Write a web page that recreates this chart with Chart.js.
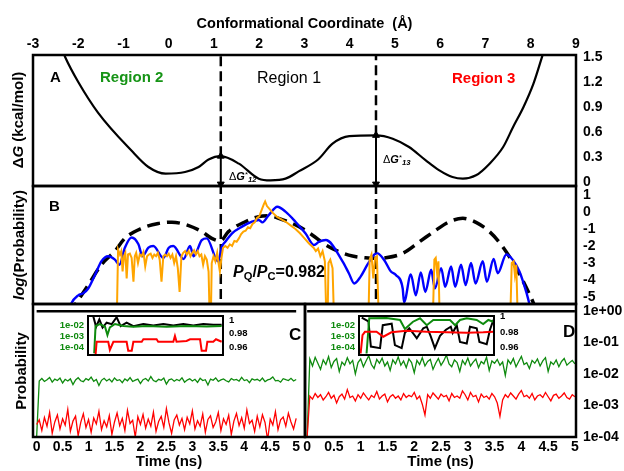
<!DOCTYPE html>
<html>
<head>
<meta charset="utf-8">
<script src="https://cdn.jsdelivr.net/npm/chart.js@4.4.1/dist/chart.umd.min.js"></script>
<style>
  html, body { margin: 0; padding: 0; background: #fff; }
  #fig { position: relative; width: 624px; height: 471px; overflow: hidden;
         font-family: 'Liberation Sans', Arial, sans-serif; color: #000; }
  #fig canvas { position: absolute; left: 0; top: 0; }
  .t { position: absolute; white-space: nowrap; line-height: 1; transform: translateY(-50%); }
  .v { position: absolute; white-space: nowrap; line-height: 1; font-weight: bold; font-size: 15px;
       transform: translate(-50%, -50%) rotate(-90deg); }
  .sb { font-size: 0.7em; position: relative; top: 0.3em; }
  .sp { font-size: 0.7em; position: relative; top: -0.35em; }
</style>
</head>
<body>
<div id="fig">
  <canvas id="cA" width="624" height="471"></canvas>
  <canvas id="cB" width="624" height="471"></canvas>
  <canvas id="cC" width="624" height="471"></canvas>
  <canvas id="cD" width="624" height="471"></canvas>
  <canvas id="cCi" width="624" height="471"></canvas>
  <canvas id="cDi" width="624" height="471"></canvas>

  <div class="v" style="left:17px; top:120px;">&Delta;<i>G</i> (kcal/mol)</div>
  <div class="v" style="left:18px; top:245px;"><i>log</i>(Probability)</div>
  <div class="v" style="left:20px; top:371px;">Probability</div>

  <div class="t" style="left:50px; top:76px; font:bold 15px 'Liberation Sans',Arial;">A</div>
  <div class="t" style="left:49px; top:205px; font:bold 15px 'Liberation Sans',Arial;">B</div>
  <div class="t" style="left:289px; top:335px; font:bold 17px 'Liberation Sans',Arial;">C</div>
  <div class="t" style="left:563px; top:332px; font:bold 17px 'Liberation Sans',Arial;">D</div>

  <div class="t" style="left:100px; top:76px; font:bold 15px 'Liberation Sans',Arial; color:#169416;">Region 2</div>
  <div class="t" style="left:257px; top:78px; font:16px 'Liberation Sans',Arial;">Region 1</div>
  <div class="t" style="left:452px; top:77px; font:bold 15px 'Liberation Sans',Arial; color:#ff0000;">Region 3</div>

  <div class="t" style="left:229px; top:176px; font:11px 'Liberation Sans',Arial;">&Delta;<b><i>G</i></b><span class="sp">*</span><b><i class="sb">12</i></b></div>
  <div class="t" style="left:383px; top:159px; font:11px 'Liberation Sans',Arial;">&Delta;<b><i>G</i></b><span class="sp">*</span><b><i class="sb">13</i></b></div>

  <div class="t" style="left:233px; top:272px; font:bold 16px 'Liberation Sans',Arial;"><i>P</i><span class="sb">Q</span>/<i>P</i><span class="sb">C</span>=0.982</div>
</div>

<script>
const FONT = "'Liberation Sans', Arial, sans-serif";
Chart.defaults.font.family = FONT;
Chart.defaults.color = '#000';

// ---- axis ticks ----
const coordTicks = [-3, -2, -1, 0, 1, 2, 3, 4, 5, 6, 7, 8, 9];
const gTicks = [0, 0.3, 0.6, 0.9, 1.2, 1.5];
const gTickLabels = ['0', '0.3', '0.6', '0.9', '1.2', '1.5'];
const logPTicks = [1, 0, -1, -2, -3, -4, -5];
const timeTicks = [0, 0.5, 1, 1.5, 2, 2.5, 3, 3.5, 4, 4.5, 5];
const timeTickLabels = ['0', '0.5', '1', '1.5', '2', '2.5', '3', '3.5', '4', '4.5', '5'];
const probTicks = [1, 0.1, 0.01, 0.001, 0.0001];
const probTickLabels = ['1e+00', '1e-01', '1e-02', '1e-03', '1e-04'];
const insetLeftTicks = [0.01, 0.001, 0.0001];
const insetLeftLabels = ['1e-02', '1e-03', '1e-04'];
const insetRightTicks = [1, 0.98, 0.96];
const insetRightLabels = ['1', '0.98', '0.96'];

// ---- panel A: free energy profile (x in Angstrom, dG in kcal/mol) ----
const barrierX = [1.15, 4.58];
const barrierG = [0.31, 0.56];
const freeEnergy = [
  [-2.4, 1.65], [-2.29, 1.5], [-2.0, 1.2], [-1.56, 0.83], [-0.83, 0.38], [-0.45, 0.18],
  [-0.07, 0.1], [0.36, 0.12], [0.66, 0.18], [0.88, 0.27], [1.15, 0.31], [1.55, 0.22],
  [1.99, 0.04], [2.25, 0.02], [2.58, 0.04], [2.88, 0.13], [3.3, 0.27], [3.62, 0.46],
  [3.99, 0.55], [4.58, 0.56], [4.95, 0.52], [5.31, 0.42], [5.68, 0.26], [5.98, 0.14],
  [6.27, 0.06], [6.5, 0.04], [6.79, 0.08], [7.09, 0.22], [7.39, 0.42], [7.61, 0.66],
  [7.84, 0.9], [8.06, 1.18], [8.26, 1.52], [8.35, 1.68]
];

// ---- panel B: log(probability) ----
const classicalLogP = [
  [-2.2, -6.0], [-2.08, -5.5], [-1.78, -4.3], [-1.49, -3.1], [-1.19, -2.3], [-0.97, -1.55],
  [-0.6, -0.96], [-0.23, -0.67], [0.07, -0.6], [0.44, -0.8], [0.73, -1.15], [0.95, -1.55],
  [1.14, -1.7], [1.32, -1.15], [1.69, -0.57], [1.99, -0.27], [2.21, -0.22], [2.43, -0.37],
  [2.88, -0.86], [3.17, -1.35], [3.47, -1.94], [3.76, -2.33], [4.06, -2.59], [4.35, -2.69],
  [4.58, -2.72], [4.8, -2.69], [5.17, -2.43], [5.54, -1.75], [5.91, -1.06], [6.2, -0.57],
  [6.5, -0.37], [6.79, -0.61], [7.09, -1.16], [7.38, -2.04], [7.68, -3.31], [7.98, -4.88],
  [8.1, -5.6]
];
const quantumBlue = [
  [-2.2, -5.8], [-2.15, -5.37], [-2.0, -4.9], [-1.89, -4.78], [-1.78, -4.5], [-1.63, -3.7],
  [-1.49, -2.9], [-1.34, -2.6], [-1.19, -2.8], [-1.09, -3.1], [-0.97, -2.1], [-0.82, -1.5],
  [-0.67, -1.9], [-0.58, -2.6], [-0.45, -2.1], [-0.34, -2.0], [-0.12, -2.7], [0.0, -2.1],
  [0.1, -2.0], [0.33, -2.76], [0.47, -2.0], [0.55, -2.6], [0.73, -1.65], [0.84, -1.55],
  [1.09, -2.9], [1.18, -2.0], [1.25, -1.75], [1.4, -1.25], [1.62, -0.86], [1.84, -0.57],
  [1.99, -0.47], [2.07, -0.61], [2.21, -0.18], [2.4, 0.31], [2.58, 0.02], [2.8, -0.57],
  [3.02, -1.25], [3.21, -1.94], [3.32, -1.75], [3.47, -1.65], [3.84, -2.9], [3.98, -3.6],
  [4.1, -4.2], [4.24, -3.8], [4.39, -3.1], [4.54, -2.5], [4.61, -2.43], [4.76, -2.82],
  [4.91, -3.5], [5.02, -3.7], [5.17, -4.5], [5.2, -5.3], [5.35, -3.67], [5.46, -4.9],
  [5.57, -3.55], [5.67, -4.7], [5.8, -3.4], [5.88, -4.5], [6.02, -3.3], [6.11, -4.4],
  [6.24, -3.2], [6.33, -4.4], [6.46, -3.1], [6.56, -4.3], [6.68, -3.0], [6.78, -4.2],
  [6.94, -2.9], [7.03, -4.1], [7.18, -2.76], [7.27, -3.6], [7.46, -2.5], [7.6, -2.8],
  [7.75, -3.5], [7.9, -4.7], [7.98, -5.5]
];
// values below the axis mean "off scale" (log of ~0)
const quantumOrange = [
  [-1.16, -8], [-1.12, -2.2], [-1.08, -2.5], [-1.05, -2.3], [-1.02, -3.5], [-0.99, -2.6],
  [-0.96, -2.4], [-0.93, -3.9], [-0.9, -2.5], [-0.86, -2.45], [-0.82, -2.7], [-0.78, -4.1],
  [-0.75, -2.6], [-0.72, -2.4], [-0.68, -3.0], [-0.64, -2.5], [-0.6, -2.6], [-0.56, -2.35],
  [-0.52, -3.2], [-0.48, -2.6], [-0.44, -2.5], [-0.4, -2.45], [-0.36, -2.7], [-0.32, -2.5],
  [-0.28, -2.6], [-0.24, -2.4], [-0.2, -2.8], [-0.16, -4.1], [-0.12, -2.6], [-0.08, -2.5],
  [-0.04, -2.6], [0, -2.45], [0.04, -2.7], [0.08, -2.5], [0.12, -3.0], [0.16, -2.6],
  [0.2, -3.3], [0.24, -4.7], [0.28, -2.6], [0.32, -2.4], [0.36, -2.3], [0.4, -2.5],
  [0.44, -2.3], [0.48, -2.6], [0.52, -2.4], [0.56, -2.25], [0.6, -2.5], [0.64, -2.3],
  [0.68, -2.6], [0.72, -2.5], [0.76, -3.1], [0.8, -2.6], [0.84, -2.8], [0.88, -3.5],
  [0.92, -8], [0.95, -3.0], [0.99, -2.6], [1.03, -2.9], [1.07, -2.4], [1.1, -3.0],
  [1.13, -3.5], [1.17, -2.6], [1.2, -2.1], [1.25, -2.0], [1.3, -2.1], [1.35, -1.9],
  [1.4, -2.0], [1.45, -1.7], [1.5, -1.75], [1.55, -1.55], [1.6, -1.3], [1.65, -1.15],
  [1.7, -1.1], [1.75, -0.9], [1.8, -0.95], [1.85, -0.7], [1.9, -0.6], [1.95, -0.35],
  [2.0, -0.25], [2.05, 0.1], [2.1, 0.45], [2.13, 0.62], [2.17, 0.35], [2.22, 0.2],
  [2.3, -0.05], [2.4, -0.3], [2.5, -0.45], [2.6, -0.6], [2.7, -0.8], [2.8, -1.0],
  [2.9, -1.25], [3.0, -1.55], [3.1, -1.85], [3.2, -2.1], [3.25, -2.3], [3.3, -2.15],
  [3.35, -2.6], [3.4, -2.3], [3.45, -2.9], [3.5, -8], [3.53, -3.0], [3.57, -2.8],
  [3.62, -3.3], [3.67, -8], [4.4, -8], [4.44, -2.8], [4.48, -2.5], [4.52, -3.9],
  [4.56, -2.7], [4.6, -2.6], [4.66, -8], [5.82, -8], [5.87, -2.8], [5.9, -2.7],
  [5.93, -3.6], [5.96, -2.9], [6.0, -8], [7.53, -8], [7.58, -3.0], [7.62, -2.9],
  [7.65, -3.7], [7.68, -3.1], [7.73, -8]
];

// ---- panels C and D: probabilities vs time (ns) ----
const sampleTimes = [
  0, 0.05, 0.1, 0.15, 0.2, 0.25, 0.3, 0.35, 0.4, 0.45, 0.5,
  0.55, 0.6, 0.65, 0.7, 0.75, 0.8, 0.85, 0.9, 0.95, 1,
  1.05, 1.1, 1.15, 1.2, 1.25, 1.3, 1.35, 1.4, 1.45, 1.5,
  1.55, 1.6, 1.65, 1.7, 1.75, 1.8, 1.85, 1.9, 1.95, 2,
  2.05, 2.1, 2.15, 2.2, 2.25, 2.3, 2.35, 2.4, 2.45, 2.5,
  2.55, 2.6, 2.65, 2.7, 2.75, 2.8, 2.85, 2.9, 2.95, 3,
  3.05, 3.1, 3.15, 3.2, 3.25, 3.3, 3.35, 3.4, 3.45, 3.5,
  3.55, 3.6, 3.65, 3.7, 3.75, 3.8, 3.85, 3.9, 3.95, 4,
  4.05, 4.1, 4.15, 4.2, 4.25, 4.3, 4.35, 4.4, 4.45, 4.5,
  4.55, 4.6, 4.65, 4.7, 4.75, 4.8, 4.85, 4.9, 4.95, 5
];
const region1ProbC = [[0, 0.99], [5, 0.99]];
const region2ProbC = [
  1e-4, 6.0e-3, 7.2e-3, 5.8e-3, 6.6e-3, 7.8e-3, 5.5e-3, 6.9e-3, 6.2e-3, 7.4e-3, 5.2e-3,
  6.8e-3, 6.0e-3, 7.0e-3, 4.6e-3, 6.5e-3, 7.6e-3, 6.1e-3, 5.7e-3, 7.1e-3, 6.4e-3,
  8.0e-3, 5.9e-3, 6.7e-3, 4.3e-3, 6.3e-3, 7.3e-3, 6.0e-3, 6.9e-3, 5.6e-3, 7.5e-3,
  6.2e-3, 6.6e-3, 5.3e-3, 7.0e-3, 6.1e-3, 7.7e-3, 5.8e-3, 6.4e-3, 6.9e-3, 5.0e-3,
  6.6e-3, 7.2e-3, 6.0e-3, 8.3e-3, 6.2e-3, 5.7e-3, 6.8e-3, 6.3e-3, 7.4e-3, 4.8e-3,
  6.5e-3, 7.0e-3, 5.9e-3, 6.7e-3, 6.1e-3, 7.6e-3, 5.5e-3, 6.4e-3, 7.1e-3, 6.0e-3,
  6.8e-3, 5.4e-3, 7.3e-3, 6.2e-3, 6.6e-3, 4.5e-3, 6.9e-3, 6.3e-3, 7.5e-3, 5.8e-3,
  6.5e-3, 7.0e-3, 6.1e-3, 5.6e-3, 7.2e-3, 6.4e-3, 6.7e-3, 5.9e-3, 7.8e-3, 6.2e-3,
  6.6e-3, 5.3e-3, 7.0e-3, 6.4e-3, 6.8e-3, 6.0e-3, 7.4e-3, 5.7e-3, 6.5e-3, 6.9e-3,
  8.1e-3, 6.1e-3, 6.3e-3, 5.5e-3, 7.1e-3, 6.6e-3, 6.2e-3, 7.3e-3, 6.0e-3, 6.7e-3
];
const region3ProbC = [
  2.5e-4, 3.5e-4, 1.6e-4, 4.2e-4, 2.2e-4, 6.0e-4, 1.3e-4, 3.0e-4, 5.0e-4, 1.8e-4, 3.8e-4,
  2.4e-4, 7.5e-4, 1.5e-4, 3.2e-4, 4.6e-4, 1.1e-4, 2.9e-4, 5.5e-4, 2.0e-4, 3.6e-4,
  1.4e-4, 4.0e-4, 2.6e-4, 6.5e-4, 1.7e-4, 3.3e-4, 2.1e-4, 4.8e-4, 1.2e-4, 3.0e-4,
  5.8e-4, 2.3e-4, 3.9e-4, 1.6e-4, 7.0e-4, 2.7e-4, 3.4e-4, 1.0e-4, 4.4e-4, 2.5e-4,
  5.2e-4, 1.9e-4, 3.7e-4, 2.2e-4, 6.2e-4, 1.5e-4, 3.1e-4, 4.5e-4, 2.0e-4, 8.0e-4,
  2.8e-4, 1.3e-4, 3.5e-4, 5.0e-4, 2.4e-4, 3.9e-4, 1.7e-4, 4.2e-4, 2.6e-4, 6.8e-4,
  1.8e-4, 3.3e-4, 2.2e-4, 5.4e-4, 1.4e-4, 3.6e-4, 4.7e-4, 2.0e-4, 3.0e-4, 6.0e-4,
  1.6e-4, 3.8e-4, 2.5e-4, 4.9e-4, 1.2e-4, 3.2e-4, 5.6e-4, 2.3e-4, 4.1e-4, 1.9e-4,
  7.2e-4, 2.7e-4, 3.4e-4, 1.5e-4, 4.6e-4, 2.1e-4, 5.1e-4, 2.9e-4, 0.8e-4, 3.7e-4,
  2.4e-4, 6.4e-4, 1.7e-4, 3.5e-4, 4.3e-4, 2.2e-4, 5.7e-4, 3.0e-4, 1.8e-4, 3.9e-4
];
const region1ProbD = [[0, 0.99], [5, 0.99]];
const region2ProbD = [
  1e-4, 0.030, 0.018, 0.034, 0.022, 0.014, 0.028, 0.020, 0.036, 0.016, 0.025,
  0.031, 0.012, 0.024, 0.019, 0.033, 0.021, 0.027, 0.010, 0.023, 0.030,
  0.017, 0.026, 0.038, 0.020, 0.015, 0.029, 0.022, 0.032, 0.018, 0.024,
  0.013, 0.028, 0.021, 0.035, 0.019, 0.026, 0.016, 0.030, 0.023, 0.011,
  0.027, 0.020, 0.033, 0.018, 0.025, 0.029, 0.014, 0.022, 0.031, 0.019,
  0.026, 0.040, 0.021, 0.017, 0.028, 0.023, 0.012, 0.027, 0.020, 0.032,
  0.018, 0.024, 0.030, 0.016, 0.025, 0.021, 0.034, 0.013, 0.026, 0.022,
  0.029, 0.019, 0.024, 0.009, 0.028, 0.021, 0.031, 0.017, 0.025, 0.036,
  0.020, 0.023, 0.015, 0.027, 0.022, 0.030, 0.018, 0.026, 0.033, 0.012,
  0.024, 0.020, 0.028, 0.017, 0.025, 0.031, 0.019, 0.023, 0.027, 0.021
];
const region3ProbD = [
  1e-4, 2.0e-3, 1.6e-3, 2.4e-3, 1.8e-3, 2.2e-3, 1.5e-3, 1.9e-3, 2.6e-3, 1.7e-3, 2.1e-3,
  1.2e-3, 1.9e-3, 2.3e-3, 1.6e-3, 3.2e-3, 1.8e-3, 2.0e-3, 1.4e-3, 2.2e-3, 1.7e-3,
  2.5e-3, 1.9e-3, 1.5e-3, 2.1e-3, 1.8e-3, 2.8e-3, 1.6e-3, 2.0e-3, 2.3e-3, 1.3e-3,
  1.9e-3, 2.2e-3, 1.7e-3, 2.0e-3, 1.5e-3, 2.4e-3, 1.8e-3, 2.1e-3, 1.9e-3, 2.6e-3,
  1.6e-3, 2.0e-3, 1.1e-3, 0.5e-3, 2.2e-3, 1.7e-3, 2.5e-3, 2.0e-3, 1.6e-3, 2.3e-3,
  1.9e-3, 2.1e-3, 1.4e-3, 2.4e-3, 1.8e-3, 2.0e-3, 1.7e-3, 2.9e-3, 2.2e-3, 1.5e-3,
  2.6e-3, 1.9e-3, 2.1e-3, 1.3e-3, 2.3e-3, 1.8e-3, 2.0e-3, 1.6e-3, 2.4e-3, 1.9e-3,
  1.2e-3, 0.45e-3, 1.5e-3, 2.2e-3, 1.8e-3, 2.5e-3, 2.0e-3, 1.6e-3, 2.3e-3, 3.0e-3,
  1.9e-3, 2.1e-3, 1.7e-3, 2.4e-3, 1.5e-3, 2.0e-3, 2.2e-3, 1.8e-3, 2.6e-3, 1.9e-3,
  1.4e-3, 2.1e-3, 2.3e-3, 1.7e-3, 2.0e-3, 2.5e-3, 1.8e-3, 1.6e-3, 2.2e-3, 1.9e-3
];

// ---- insets: [time, value] ----
const insetCBlack = [
  [0.2, 1.0048], [0.3, 0.990], [0.42, 1.001], [0.54, 0.989], [0.69, 0.996], [0.88, 0.994],
  [1.06, 1.004], [1.21, 0.991], [1.43, 0.996], [1.68, 0.991], [2.05, 0.994], [2.42, 0.992],
  [2.79, 0.994], [3.16, 0.992], [3.53, 0.994], [3.9, 0.992], [4.27, 0.994], [4.64, 0.993],
  [4.95, 0.993]
];
const insetCGreen = [
  [0.23, 2.7e-5], [0.28, 8.1e-3], [0.44, 0.0123], [0.63, 7e-3], [0.72, 1.2e-3], [0.81, 6.2e-3],
  [1.0, 0.0123], [1.31, 8.1e-3], [1.68, 7e-3], [2.17, 8.1e-3], [2.91, 7e-3], [3.65, 8.1e-3],
  [4.4, 7.5e-3], [4.95, 8.1e-3]
];
const insetCRed = [
  [0.28, 2e-5], [0.32, 3e-4], [0.75, 3e-4], [0.81, 5.4e-5], [0.94, 3e-4], [1.43, 3e-4],
  [1.49, 4.5e-5], [1.62, 4.5e-5], [1.68, 3e-4], [1.99, 3e-4], [2.05, 5e-4], [2.54, 5e-4],
  [2.6, 3e-4], [3.16, 3e-4], [3.22, 1e-3], [3.28, 3e-4], [3.65, 3.5e-4], [3.78, 5e-4],
  [4.15, 5e-4], [4.21, 4.5e-5], [4.37, 4.5e-5], [4.42, 3e-4], [4.64, 3e-4], [4.74, 5e-4],
  [4.95, 3e-4]
];
const insetDBlack = [
  [0.1, 0.999], [0.35, 0.994], [0.44, 0.961], [0.78, 0.959], [0.88, 0.989], [1.21, 0.991],
  [1.33, 0.963], [1.58, 0.959], [1.7, 0.979], [1.86, 0.985], [2.14, 0.972], [2.38, 0.985],
  [2.51, 0.987], [2.65, 0.975], [2.81, 0.959], [3.0, 0.975], [3.22, 0.983], [3.4, 0.987],
  [3.47, 0.979], [3.62, 0.989], [3.74, 0.967], [3.99, 0.965], [4.11, 0.987], [4.36, 0.985],
  [4.46, 0.967], [4.73, 0.964], [4.85, 0.983], [4.98, 0.996]
];
const insetDGreen = [
  [0.28, 3e-5], [0.38, 0.047], [1.02, 0.05], [1.52, 0.033], [1.7, 5e-3], [2.0, 0.023],
  [2.26, 0.047], [2.51, 0.011], [2.75, 0.033], [3.37, 0.033], [3.56, 0.011], [3.74, 0.033],
  [3.99, 0.047], [4.36, 0.033], [4.6, 0.014], [4.79, 0.033], [4.98, 0.023]
];
const insetDRed = [
  [0.06, 3e-5], [0.13, 1.4e-3], [0.22, 2.8e-3], [0.65, 2.8e-3], [0.9, 1e-3], [1.2, 2.5e-3],
  [1.76, 3.5e-3], [2.51, 2.8e-3], [3.25, 2.6e-3], [3.99, 2.3e-3], [4.6, 2.5e-3], [4.98, 2.8e-3]
];

const GREEN = '#0e8a0e';
const RED = '#ff0000';

// frame around each panel (and white background for the insets)
const framePlugin = {
  id: 'frame',
  beforeDraw(chart, args, opts) {
    if (!opts.fill) return;
    const { ctx, chartArea: a } = chart;
    ctx.save();
    ctx.fillStyle = opts.fill;
    ctx.fillRect(a.left, a.top, a.width, a.height);
    ctx.restore();
  },
  afterDatasetsDraw(chart, args, opts) {
    const { ctx, chartArea: a } = chart;
    ctx.save();
    ctx.strokeStyle = '#000';
    ctx.lineWidth = opts.width || 2.5;
    ctx.strokeRect(a.left, a.top, a.width, a.height);
    ctx.restore();
  }
};

const pts = arr => arr.map(([x, y]) => ({ x, y }));
const bold = size => ({ family: FONT, size, weight: 'bold' });

function line(data, color, width, extra) {
  return Object.assign({ data, borderColor: color, borderWidth: width, pointRadius: 0,
                         fill: false, tension: 0 }, extra || {});
}

function noGrid() {
  return { grid: { display: false, drawTicks: false }, border: { display: false } };
}

function fixedTicks(values) {
  return s => { s.ticks = values.map(v => ({ value: v })); };
}

function baseOptions(padding, scales, frame) {
  return {
    responsive: false, animation: false, events: [],
    layout: { padding, autoPadding: false },
    plugins: { legend: { display: false }, tooltip: { enabled: false }, frame },
    scales
  };
}

// ---- panel A ----
const arrowA = i => line(pts([[barrierX[i], -0.025], [barrierX[i], barrierG[i]]]), '#000', 2,
  { pointStyle: 'triangle', pointRadius: 4, pointRotation: [180, 0],
    pointBackgroundColor: '#000', pointBorderColor: '#000', pointBorderWidth: 1 });
const dashA = i => line(pts([[barrierX[i], barrierG[i]], [barrierX[i], 1.7]]), '#000', 2.5,
  { borderDash: [10, 5] });

new Chart(document.getElementById('cA'), {
  type: 'line',
  data: { datasets: [
    line(pts(freeEnergy), '#000', 2.2, { cubicInterpolationMode: 'monotone' }),
    dashA(0), dashA(1), arrowA(0), arrowA(1)
  ] },
  options: baseOptions({ left: 33, top: 0, right: 0, bottom: 285 }, {
    x: Object.assign(noGrid(), {
      type: 'linear', position: 'top', min: -3, max: 9,
      afterBuildTicks: fixedTicks(coordTicks),
      afterFit: s => { s.height = 55; },
      ticks: { font: bold(14), color: '#000', padding: 2, maxRotation: 0, autoSkip: false,
               callback: v => String(v) },
      title: { display: true, text: 'Conformational Coordinate  (\u00C5)', font: bold(14.5),
               color: '#000', padding: { top: 15, bottom: 0 } }
    }),
    y: Object.assign(noGrid(), {
      type: 'linear', position: 'right', min: -0.048, max: 1.524,
      afterBuildTicks: fixedTicks(gTicks),
      afterFit: s => { s.width = 48; },
      ticks: { font: bold(14), color: '#000', padding: 7, autoSkip: false,
               callback: (v, i) => gTickLabels[i] }
    })
  }, { width: 2.5 }),
  plugins: [framePlugin]
});

// ---- panel B ----
const dashB = i => line(pts([[barrierX[i], -6], [barrierX[i], 1.7]]), '#000', 2.5,
  { borderDash: [10, 5] });

new Chart(document.getElementById('cB'), {
  type: 'line',
  data: { datasets: [
    line(pts(quantumOrange), '#ffa500', 2),
    line(pts(quantumBlue), '#0000ff', 2.4, { cubicInterpolationMode: 'monotone' }),
    line(pts(classicalLogP), '#000', 3.5, { borderDash: [13, 7], cubicInterpolationMode: 'monotone' }),
    dashB(0), dashB(1)
  ] },
  options: baseOptions({ left: 33, top: 186, right: 0, bottom: 167 }, {
    x: { type: 'linear', display: false, min: -3, max: 9 },
    y: Object.assign(noGrid(), {
      type: 'linear', position: 'right', min: -5.41, max: 1.53,
      afterBuildTicks: fixedTicks(logPTicks),
      afterFit: s => { s.width = 48; },
      ticks: { font: bold(14), color: '#000', padding: 7, autoSkip: false,
               callback: v => String(v) }
    })
  }, { width: 2.5 }),
  plugins: [framePlugin]
});

// ---- panels C and D ----
function timeAxis(min, max) {
  return Object.assign(noGrid(), {
    type: 'linear', position: 'bottom', min, max,
    afterBuildTicks: fixedTicks(timeTicks),
    afterFit: s => { s.height = 34; },
    ticks: { font: bold(14), color: '#000', padding: 2, maxRotation: 0, autoSkip: false,
             callback: (v, i) => timeTickLabels[i] },
    title: { display: true, text: 'Time (ns)', font: bold(15), color: '#000',
             padding: { top: 0, bottom: 0 } }
  });
}

new Chart(document.getElementById('cC'), {
  type: 'line',
  data: { labels: sampleTimes, datasets: [
    line(region3ProbC, RED, 1.3),
    line(region2ProbC, GREEN, 1.3),
    line(pts(region1ProbC), '#000', 2.5)
  ] },
  options: baseOptions({ left: 33, top: 304, right: 319, bottom: 0 }, {
    x: timeAxis(-0.07, 5.17),
    y: { type: 'logarithmic', display: false, min: 1e-4, max: 1.67 }
  }, { width: 2.5 }),
  plugins: [framePlugin]
});

new Chart(document.getElementById('cD'), {
  type: 'line',
  data: { labels: sampleTimes, datasets: [
    line(region3ProbD, RED, 1.3),
    line(region2ProbD, GREEN, 1.3),
    line(pts(region1ProbD), '#000', 2.5)
  ] },
  options: baseOptions({ left: 305, top: 304, right: 0, bottom: 0 }, {
    x: timeAxis(-0.04, 5.02),
    y: Object.assign(noGrid(), {
      type: 'logarithmic', position: 'right', min: 1e-4, max: 1.67,
      afterBuildTicks: fixedTicks(probTicks),
      afterFit: s => { s.width = 48; },
      ticks: { font: bold(14), color: '#000', padding: 7, autoSkip: false,
               callback: (v, i) => probTickLabels[i] }
    })
  }, { width: 2.5 }),
  plugins: [framePlugin]
});

// ---- insets ----
function inset(id, padding, leftW, logRange, linRange, black, green, red) {
  return new Chart(document.getElementById(id), {
    type: 'line',
    data: { datasets: [
      line(pts(red), RED, 2, { yAxisID: 'y' }),
      line(pts(green), GREEN, 2, { yAxisID: 'y' }),
      line(pts(black), '#000', 2, { yAxisID: 'y2' })
    ] },
    options: baseOptions(padding, {
      x: { type: 'linear', display: false, min: 0, max: 5 },
      y: Object.assign(noGrid(), {
        type: 'logarithmic', position: 'left', min: logRange[0], max: logRange[1],
        afterBuildTicks: fixedTicks(insetLeftTicks),
        afterFit: s => { s.width = leftW; },
        ticks: { font: bold(9.5), color: GREEN, padding: 4, autoSkip: false,
                 callback: (v, i) => insetLeftLabels[i] }
      }),
      y2: Object.assign(noGrid(), {
        type: 'linear', position: 'right', min: linRange[0], max: linRange[1],
        afterBuildTicks: fixedTicks(insetRightTicks),
        afterFit: s => { s.width = 30; },
        ticks: { font: bold(9.5), color: '#000', padding: 6, autoSkip: false,
                 callback: (v, i) => insetRightLabels[i] }
      })
    }, { width: 2, fill: '#fff' }),
    plugins: [framePlugin]
  });
}

inset('cCi', { left: 0, top: 316, right: 371, bottom: 116 }, 88,
      [1.86e-5, 0.066], [0.949, 1.0058], insetCBlack, insetCGreen, insetCRed);
inset('cDi', { left: 0, top: 316, right: 100, bottom: 116 }, 359,
      [2.19e-5, 0.076], [0.950, 1.001], insetDBlack, insetDGreen, insetDRed);
</script>
</body>
</html>
